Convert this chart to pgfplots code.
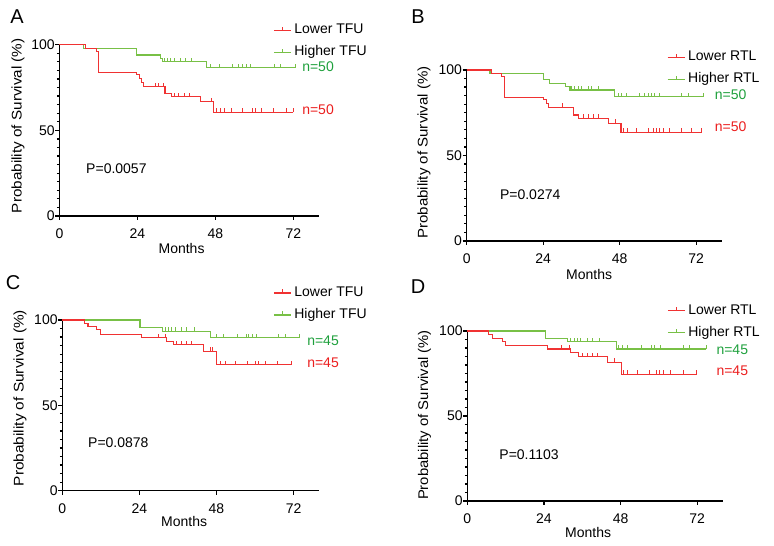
\documentclass[border=0pt]{standalone}
\usepackage{pgfplots}
\pgfplotsset{compat=1.18}
\usepackage{fontspec}
\setmainfont{Liberation Sans}
\definecolor{kmred}{RGB}{240,50,50}
\definecolor{kmgreen}{RGB}{120,192,70}
\definecolor{ngreen}{RGB}{30,160,60}
\definecolor{nred}{RGB}{235,30,30}
\pgfdeclareplotmark{cens}{\pgfpathmoveto{\pgfqpoint{0pt}{0pt}}\pgfpathlineto{\pgfqpoint{0pt}{4pt}}\pgfusepathqstroke}
\newcommand{\fs}{\fontsize{14}{16}\selectfont}
\tikzset{lab/.style={anchor=west, inner sep=0pt, font=\fs}}
\pgfplotsset{
 km/.style={
  scale only axis, axis lines=left, axis line style={-, line width=1.5pt},
  xmin=0,xmax=80,ymin=0,ymax=100,
  xtick={0,24,48,72}, ytick={0,50,100}, minor y tick num=9,
  tick align=outside, major tick length=4pt, minor tick length=2.5pt,
  every tick/.style={black, line width=1.2pt},
  /pgf/number format/assume math mode=true,
  tick label style={font=\fs},
  xticklabel style={inner sep=0pt, yshift=-9pt},
  yticklabel style={inner sep=0.5pt},
  label style={font=\fs},
  xlabel=Months,
  clip=false,
  reverse legend,
  legend cell align=left,
  legend style={draw=none, fill=none, inner sep=0pt, row sep=9pt, column sep=3pt, font=\fs,
    nodes={inner sep=0pt, text height=10pt, text depth=3pt}, anchor=west},
  legend image code/.code={\draw[#1] (0pt,0pt) -- (17pt,0pt); \draw[#1] (8.5pt,0pt) -- (8.5pt,3.5pt);},
 },
 surv/.style={const plot, line width=1.1pt, color=#1, mark=none},
 cens/.style={only marks, mark=cens, mark options={color=#1, line width=1.0pt}, forget plot},
}
\begin{document}
\begin{tikzpicture}
\useasboundingbox (0,0) rectangle (774pt,546pt);
% ---------------- A ----------------
\begin{axis}[km, at={(59.4pt,330pt)}, anchor=south west, width=259.9pt, height=171.3pt,
  ylabel={\scalebox{1.09}[1]{Probability of Survival (\%)}},
  ylabel style={at={(axis description cs:-0.159,0.527)}, anchor=center},
  xlabel style={at={(axis description cs:0.47,-0.19)}, anchor=center},
  legend style={at={(axis description cs:0.822,1.02)}}]
\addplot[surv=kmgreen] coordinates {(0,100)(7.4,98)(23.7,94)(31.2,92)(31.6,90)(45.2,86.6)(72.8,86.6)};
\addlegendentry{Higher TFU}
\addplot[surv=kmred] coordinates {(0,100)(7.9,98)(11.3,96)(12,84)(23.7,82.5)(24.7,80.3)(25.2,78.1)(25.8,75.5)(32.5,71.6)(34.5,69.6)(43.3,66.7)(47.4,60.5)(72.0,60.5)};
\addlegendentry{Lower TFU}
\addplot[cens=kmgreen] coordinates {(32.2,90)(33.2,90)(34.2,90)(35.3,90)(37.3,90)(38.8,90)(40.6,90)
 (46.6,86.6)(49.3,86.6)(53.3,86.6)(55.2,86.6)(56.4,86.6)(57.6,86.6)(58.9,86.6)(66.1,86.6)(68.2,86.6)(72.8,86.6)};
\addplot[cens=kmred] coordinates {(29.5,75.5)(30.5,75.5)(32.0,75.5)(35.3,69.6)(36.8,69.6)(38.5,69.6)(40.0,69.6)(46.8,66.7)
 (48.5,60.5)(49.5,60.5)(50.8,60.5)(52.9,60.5)(56.3,60.5)(59.5,60.5)(60.5,60.5)(62.2,60.5)(66.0,60.5)(70.0,60.5)(72.0,60.5)};
\node[lab, text=ngreen] at (axis cs:74.7,87) {n=50};
\node[lab, text=nred] at (axis cs:74.7,61.9) {n=50};
\node[lab] at (axis cs:8.2,27.8) {P=0.0057};
\end{axis}
% ---------------- B ----------------
\begin{axis}[km, at={(466.7pt,305pt)}, anchor=south west, width=255pt, height=171pt,
  ylabel={\scalebox{1.075}[1]{Probability of Survival (\%)}},
  ylabel style={at={(axis description cs:-0.167,0.518)}, anchor=center},
  xlabel style={at={(axis description cs:0.48,-0.193)}, anchor=center},
  legend style={at={(axis description cs:0.785,1.01)}}]
\addplot[surv=kmgreen] coordinates {(0,100)(7.3,98)(24.2,94.2)(26.1,92.2)(31.1,90.2)(32.4,88.3)(46.5,84.4)(74.2,84.4)};
\addlegendentry{Higher RTL}
\addplot[surv=kmred] coordinates {(0,100)(7.8,98)(11,96)(11.8,84)(24.0,82.5)(24.9,80.6)(25.6,78.2)(33.4,73.7)(35.2,71.8)(44.5,68.8)(48.4,63.5)(73.8,63.5)};
\addlegendentry{Lower RTL}
\addplot[cens=kmgreen] coordinates {(32.9,88.3)(33.9,88.3)(35.0,88.3)(36.0,88.3)(38.1,88.3)(39.2,88.3)(41.3,88.3)
 (47.5,84.4)(48.6,84.4)(50.1,84.4)(54.3,84.4)(55.9,84.4)(56.9,84.4)(58.0,84.4)(59.0,84.4)(60.6,84.4)(67.4,84.4)(69.5,84.4)(74.2,84.4)};
\addplot[cens=kmred] coordinates {(30.1,78.2)(36.7,71.8)(38.3,71.8)(39.9,71.8)(41.4,71.8)(46.6,68.8)
 (49.1,63.5)(50.3,63.5)(53.4,63.5)(56.9,63.5)(58.5,63.5)(59.5,63.5)(60.6,63.5)(61.6,63.5)(63.5,63.5)(67.4,63.5)(70.5,63.5)(73.6,63.5)};
\node[lab, text=ngreen] at (axis cs:77.8,85.4) {n=50};
\node[lab, text=nred] at (axis cs:77.8,66.8) {n=50};
\node[lab] at (axis cs:10.4,27.3) {P=0.0274};
\end{axis}
% ---------------- C ----------------
\begin{axis}[km, at={(62.3pt,55.3pt)}, anchor=south west, width=257pt, height=170.7pt,
  ylabel={\scalebox{1.1}[1]{Probability of Survival (\%)}},
  ylabel style={at={(axis description cs:-0.165,0.543)}, anchor=center},
  xlabel style={at={(axis description cs:0.474,-0.183)}, anchor=center},
  legend style={at={(axis description cs:0.82,1.094)}}]
\addplot[surv=kmgreen] coordinates {(0,100)(24.2,95.7)(31.2,93.4)(46.1,89.5)(73.7,89.5)};
\addlegendentry{Higher TFU}
\addplot[surv=kmred] coordinates {(0,100)(7.0,98)(8.0,96.1)(10.6,94.2)(12.0,91.4)(24.7,89.5)(32.5,87.5)(34.6,85.6)(43.9,81.6)(48.1,73.8)(71.3,73.8)};
\addlegendentry{Lower TFU}
\addplot[cens=kmgreen] coordinates {(32.2,93.4)(33.0,93.4)(34.1,93.4)(35.1,93.4)(37.2,93.4)(38.8,93.4)(41.2,93.4)
 (48.1,89.5)(50.2,89.5)(54.4,89.5)(57.2,89.5)(58.0,89.5)(59.1,89.5)(60.3,89.5)(67.4,89.5)(69.5,89.5)(73.7,89.5)};
\addplot[cens=kmred] coordinates {(29.9,89.5)(32.0,89.5)(35.6,85.6)(37.2,85.6)(38.8,85.6)(40.3,85.6)(46.0,81.6)(46.8,81.6)
 (49.2,73.8)(50.7,73.8)(53.9,73.8)(57.5,73.8)(60.1,73.8)(61.2,73.8)(63.2,73.8)(66.9,73.8)(71.3,73.8)};
\node[lab, text=ngreen] at (axis cs:76.2,87.9) {n=45};
\node[lab, text=nred] at (axis cs:76.2,75.0) {n=45};
\node[lab] at (axis cs:8.0,28.1) {P=0.0878};
\end{axis}
% ---------------- D ----------------
\begin{axis}[km, at={(467.3pt,45pt)}, anchor=south west, width=255.4pt, height=170pt,
  ylabel={\scalebox{1.06}[1]{Probability of Survival (\%)}},
  ylabel style={at={(axis description cs:-0.168,0.506)}, anchor=center},
  xlabel style={at={(axis description cs:0.473,-0.188)}, anchor=center},
  legend style={at={(axis description cs:0.782,1.055)}}]
\addplot[surv=kmgreen] coordinates {(0,100)(24.4,95.7)(31.4,93.7)(46.6,89.4)(74.9,89.4)};
\addlegendentry{Higher RTL}
\addplot[surv=kmred] coordinates {(0,100)(6.7,98)(7.8,95.7)(10.9,93.7)(12.0,91.4)(25.1,89.4)(32.4,87.5)(34.9,84.9)(44.0,81.6)(48.2,74.5)(71.8,74.5)};
\addlegendentry{Lower RTL}
\addplot[cens=kmgreen] coordinates {(32.4,93.7)(33.5,93.7)(34.5,93.7)(35.6,93.7)(37.7,93.7)(39.3,93.7)(41.4,93.7)
 (47.4,89.4)(48.7,89.4)(50.3,89.4)(54.5,89.4)(57.6,89.4)(58.7,89.4)(60.4,89.4)(67.6,89.4)(69.7,89.4)(74.9,89.4)};
\addplot[cens=kmred] coordinates {(29.6,89.4)(32.0,89.4)(36.1,84.9)(37.7,84.9)(39.3,84.9)(40.8,84.9)(46.1,81.6)
 (49.0,74.5)(50.3,74.5)(53.4,74.5)(57.1,74.5)(59.2,74.5)(60.2,74.5)(61.3,74.5)(63.6,74.5)(67.6,74.5)(71.8,74.5)};
\node[lab, text=ngreen] at (axis cs:78.0,89.2) {n=45};
\node[lab, text=nred] at (axis cs:78.0,76.5) {n=45};
\node[lab] at (axis cs:10.0,27.5) {P=0.1103};
\end{axis}
\node[font=\fontsize{20}{24}\selectfont] at (17pt,529pt) {A};
\node[font=\fontsize{20}{24}\selectfont] at (418pt,529pt) {B};
\node[font=\fontsize{20}{24}\selectfont] at (13pt,263pt) {C};
\node[font=\fontsize{20}{24}\selectfont] at (418pt,259pt) {D};
\end{tikzpicture}
\end{document}
